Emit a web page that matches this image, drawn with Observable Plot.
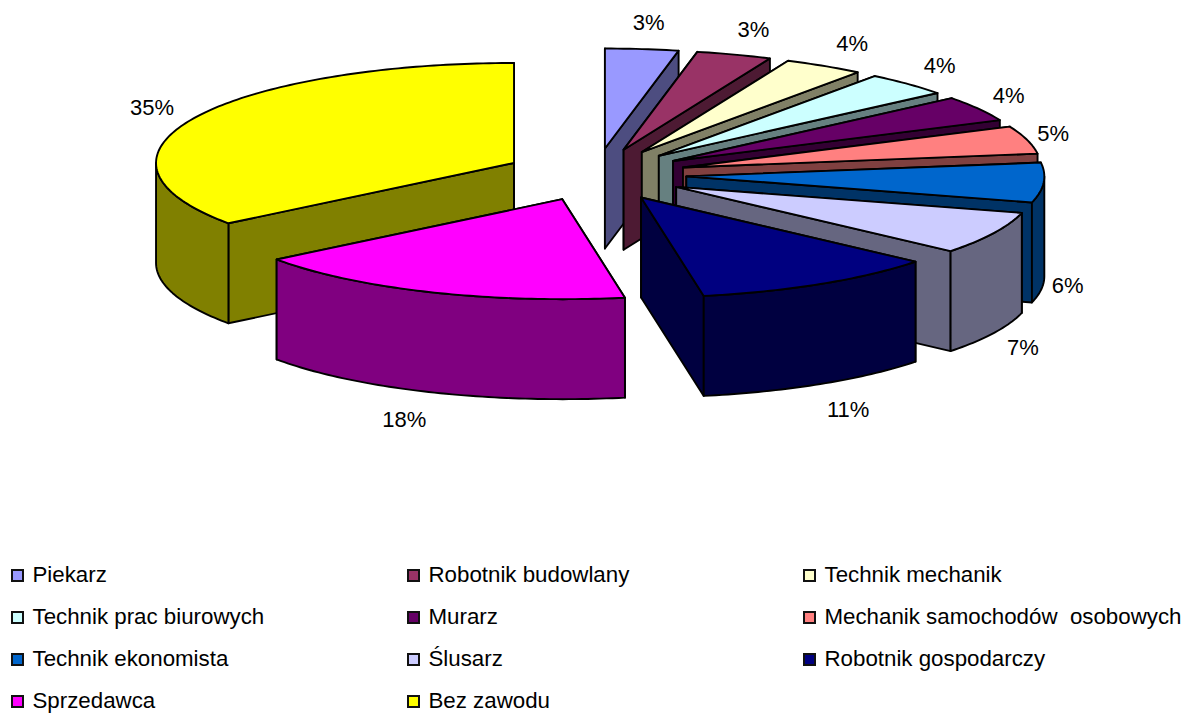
<!DOCTYPE html>
<html lang="pl">
<head>
<meta charset="utf-8">
<script src="https://cdn.jsdelivr.net/npm/d3@7"></script>
<script src="https://cdn.jsdelivr.net/npm/@observablehq/plot@0.6"></script>
<style>
  html,body{margin:0;padding:0;background:#fff;}
  body{width:1190px;height:713px;overflow:hidden;font-family:"Liberation Sans",Arial,sans-serif;}
  #chart svg{display:block;}
  #legend{position:absolute;left:11px;top:554px;display:grid;grid-template-columns:396px 396px 385px;grid-auto-rows:42px;font-size:22.3px;color:#000;}
  #legend div{display:flex;align-items:center;white-space:pre;}
  #legend i{display:block;box-sizing:border-box;width:13px;height:13px;border:2px solid #111;margin-right:8.5px;}
</style>
</head>
<body>
<div id="chart"></div>
<div id="legend"></div>
<script>
const categories = ["Piekarz","Robotnik budowlany","Technik mechanik","Technik prac biurowych","Murarz","Mechanik samochodów  osobowych","Technik ekonomista","Ślusarz","Robotnik gospodarczy","Sprzedawca","Bez zawodu"];
const shares = [3.3,3.4,3.6,3.9,4.1,4.5,6.4,6.9,11.1,17.5,35.3];
const colors = ["#9999FF","#993366","#FFFFCC","#CCFFFF","#660066","#FF8080","#0066CC","#CCCCFF","#000080","#FF00FF","#FFFF00"];

const W = 1190, H = 555;
const cx = 595, cy = 174.2, burstX = 91, burstY = 26.3;
const rx = 358, ry = 100, depth = 100;
const rad = d => d * Math.PI / 180;
const labelRy = 128, labelShift = 2;
const labelRx = m => 382 + 42 * Math.cos(rad(m)) ** 2 + (m > 180 ? 14 : 0);
const total = d3.sum(shares);

let running = 0;
const slices = shares.map((v, i) => {
  const a0 = running / total * 360;
  running += v;
  const a1 = running / total * 360;
  const m = (a0 + a1) / 2;
  const tip = {x: cx + burstX * Math.sin(rad(m)), y: cy - burstY * Math.cos(rad(m))};
  return {i, v, a0, a1, m, tip, color: colors[i], dark: d3.interpolateRgb(colors[i], "#000")(0.5)};
});
const rimPoint = (s, a, dy = 0) => ({x: s.tip.x + rx * Math.sin(rad(a)), y: s.tip.y - ry * Math.cos(rad(a)) + dy});
const arc = (s, a0, a1, dy = 0) => {
  const n = Math.max(2, Math.ceil(a1 - a0));
  return d3.range(n + 1).map(k => rimPoint(s, a0 + (a1 - a0) * k / n, dy));
};
const closed = pts => [...pts, pts[0]];
const poly = (pts, fill) => Plot.line(closed(pts), {x: "x", y: "y", fill, stroke: "#000", strokeWidth: 1.9, strokeLinejoin: "round"});

const sliceMarks = s => {
  const marks = [];
  const down = p => ({x: p.x, y: p.y + depth});
  [s.a0, s.a1].forEach(a => {
    const e = rimPoint(s, a);
    marks.push(poly([s.tip, e, down(e), down(s.tip)], s.dark));
  });
  const from = Math.max(s.a0, 90), to = Math.min(s.a1, 270);
  if (to > from) marks.push(poly([...arc(s, from, to), ...arc(s, from, to, depth).reverse()], s.dark));
  marks.push(poly([s.tip, ...arc(s, s.a0, s.a1)], s.color));
  return marks;
};

const order = [10, 0, 1, 2, 3, 4, 5, 6, 7, 8, 9];
const labels = slices.map(s => ({
  x: s.tip.x + labelRx(s.m) * Math.sin(rad(s.m)),
  y: s.tip.y - labelRy * Math.cos(rad(s.m)) + labelShift + (s.m > 90 && s.m < 270 ? depth : 0),
  text: Math.round(s.v) + "%"
}));

const chart = Plot.plot({
  width: W, height: H, margin: 0,
  style: {background: "transparent", fontFamily: '"Liberation Sans",Arial,sans-serif'},
  x: {domain: [0, W], range: [0, W], axis: null},
  y: {domain: [0, H], range: [0, H], axis: null},
  marks: [
    ...order.flatMap(i => sliceMarks(slices[i])),
    Plot.text(labels, {x: "x", y: "y", text: "text", fontSize: 22, fill: "#000"})
  ]
});
document.getElementById("chart").append(chart);

const legend = document.getElementById("legend");
categories.forEach((c, i) => {
  const row = document.createElement("div");
  const sw = document.createElement("i");
  sw.style.background = colors[i];
  row.append(sw, document.createTextNode(c));
  legend.append(row);
});
</script>
</body>
</html>
